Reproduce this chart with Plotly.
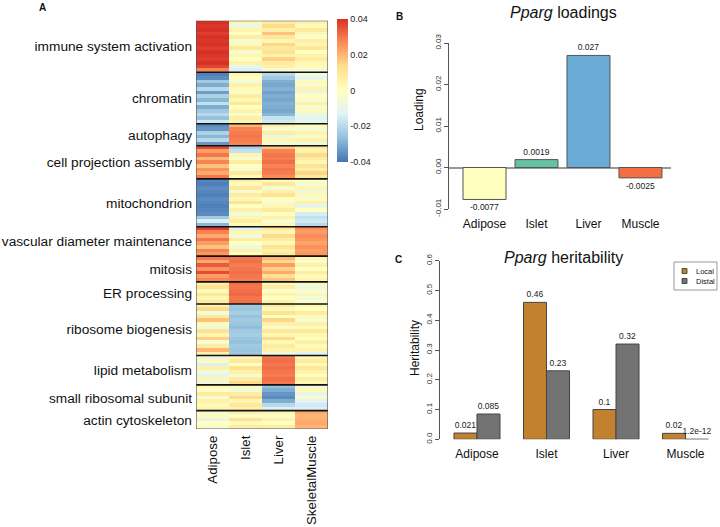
import numpy as np
import plotly.graph_objects as go

# ---- panel A : module loadings heatmap (values in units of 0.001) ----
heat_tissues = ["Adipose", "Islet", "Liver", "SkeletalMuscle"]
modules = ["immune system activation", "chromatin", "autophagy", "cell projection assembly",
           "mitochondrion", "vascular diameter maintenance", "mitosis", "ER processing",
           "ribosome biogenesis", "lipid metabolism", "small ribosomal subunit", "actin cytoskeleton"]
module_rows = [14, 14, 6, 9, 13, 8, 7, 6, 14, 8, 7, 5]

adipose_z = [40, 39, 40, 38, 40, 39, 40, 38, 40, 39, 38, 40, 37, 28,            # immune
             -38, -36, -24, -30, -20, -33, -22, -28, -18, -30, -24, -20, -26, -16,  # chromatin
             -36, -34, -22, -28, -20, -34,                                   # autophagy
             36, 24, 30, 20, 28, 18, 26, 22, 30,                             # cell projection
             -37, -38, -36, -37, -38, -36, -37, -38, -37, -36, -24, -14, -28,  # mitochondrion
             38, 28, 22, 30, 24, 18, 28, 25,                                 # vascular
             30, 22, 34, 26, 36, 24, 28,                                     # mitosis
             6, 12, 2, 10, 4, 8,                                             # ER
             6, 14, -6, 10, 18, 2, -8, 12, 4, 16, -4, 8, 20, 6,              # ribosome biogenesis
             -10, 2, -14, 6, -6, -12, 4, -8,                                 # lipid
             4, 0, 8, -4, 6, 2, 5,                                           # small ribosomal
             -6, 2, -10, 0, -4]                                              # actin
islet_z = [3, -8, 5, 0, 8, -5, 2, 10, -3, 4, 0, 6, -10, -14,
           4, 0, -6, 6, 2, -3, 8, 3, 10, 0, 5, -2, 7, 4,
           20, 28, 29, 30, 29, 28,
           -22, -18, 4, -4, 8, 0, -6, 10, 2,
           6, 2, 10, -4, 8, 3, 12, 0, 6, -6, 4, 8, 2,
           -14, 4, -6, 8, 0, -8, 6, 2,
           30, 31, 29, 30, 31, 30, 29,
           31, 30, 31, 32, 30, 31,
           -24, -25, -23, -26, -24, -25, -27, -24, -23, -25, -26, -24, -25, -24,
           4, 10, 0, 12, 6, -4, 8, 14,
           2, -6, 8, 14, 4, 10, 6,
           6, -2, 12, 2, 8]
liver_z = [8, 14, 6, 18, 10, 4, 15, 9, 12, 5, 16, 8, 6, -4,
           -20, -24, -30, -31, -29, -32, -30, -31, -29, -30, -31, -28, -18, -16,
           6, -4, 8, -8, 3, -5,
           18, 28, 30, 29, 31, 28, 30, 29, 27,
           2, 10, -3, 6, 12, 0, -5, 4, 9, 1, 6, -4, 3,
           10, 4, 14, 8, 2, 12, 6, 9,
           20, 14, 24, 16, 22, 12, 18,
           2, 8, -2, 5, 0, 6,
           8, 3, 12, 0, 15, 6, -3, 10, 4, 14, 2, 8, 5, -6,
           30, 31, 30, 31, 30, 29, 31, 30,
           -26, -30, -34, -36, -30, -20, -14,
           4, -2, 6, 0, 8]
muscle_z = [6, 2, 9, 3, -2, 7, 4, 10, 0, 5, 8, 3, 2, -6,
            -6, -10, 2, -4, 5, -8, 0, -3, 6, -5, 2, -9, -12, -10,
            2, -6, 5, -3, 6, -8,
            10, 5, 14, 8, 3, 12, 6, 15, 9,
            0, -5, 4, -8, 2, -3, 6, -10, 0, -15, -18, -16, -20,
            26, 24, 27, 25, 23, 26, 24, 25,
            4, -2, 6, 0, 8, 2, 5,
            2, -8, -4, 3, -6, -2,
            4, 0, 8, 2, -4, 6, 1, 10, 3, 0, 7, 2, 5, -12,
            4, 8, 2, 10, 5, 0, 7, 3,
            -6, 2, -10, -4, -12, -16, -14,
            22, 20, 21, 22, 20]
heat_ticks = [-0.04, -0.02, 0, 0.02, 0.04]

# ---- panel B : Pparg loadings ----
bar_tissues = ["Adipose", "Islet", "Liver", "Muscle"]
loadings = [-0.0077, 0.0019, 0.027, -0.0025]
loading_colors = ["#FFFFBF", "#66C2A5", "#6AABD6", "#F46D43"]

# ---- panel C : Pparg heritability ----
local_h2 = [0.021, 0.46, 0.1, 0.02]
distal_h2 = [0.085, 0.23, 0.32, 1.2e-12]

FONT = "Liberation Sans, Arial, Helvetica, sans-serif"
W, H = 720, 527


def px(x):
    return x / W


def py(y):
    return 1 - y / H


z = [[a / 1000, i / 1000, l / 1000, m / 1000]
     for a, i, l, m in zip(adipose_z, islet_z, liver_z, muscle_z)]
bounds = np.concatenate([[0], np.cumsum(module_rows)])
centers = [(bounds[k] + bounds[k + 1] - 1) / 2 for k in range(len(modules))]
n_rows = int(bounds[-1])

pheat = ["#4575B4", "#91BFDB", "#E0F3F8", "#FFFFBF", "#FEE090", "#FC8D59", "#D73027"]
colorscale = [[k / 6, c] for k, c in enumerate(pheat)]

fig = go.Figure()

fig.add_trace(go.Heatmap(
    z=z, x=list(range(4)), y=list(range(n_rows)), xaxis="x", yaxis="y",
    colorscale=colorscale, zmin=-0.04, zmax=0.04,
    colorbar=dict(x=px(337), xanchor="left", y=py(90.5), yanchor="middle",
                  len=143 / H, lenmode="fraction", thickness=11, outlinewidth=0,
                  tickvals=heat_ticks, ticktext=["-0.04", "-0.02", "0", "0.02", "0.04"],
                  ticks="", tickfont=dict(size=9, color="#222"), xpad=0, ypad=0),
))

fig.add_trace(go.Bar(
    x=list(range(4)), y=loadings, xaxis="x2", yaxis="y2", width=0.827,
    marker=dict(color=loading_colors, line=dict(color="#555", width=1)),
    text=[str(v) for v in loadings], textposition="outside", cliponaxis=False,
    constraintext="none", textfont=dict(size=8.5, color="#222"), showlegend=False,
))

fig.add_trace(go.Bar(
    x=list(range(4)), y=local_h2, xaxis="x3", yaxis="y3", name="Local",
    marker=dict(color="#C1812F", line=dict(color="#444", width=1)),
    text=[str(v) for v in local_h2], textposition="outside", cliponaxis=False,
    constraintext="none", textfont=dict(size=8.5, color="#222"), showlegend=False,
))
fig.add_trace(go.Bar(
    x=list(range(4)), y=distal_h2, xaxis="x3", yaxis="y3", name="Distal",
    marker=dict(color="#737373", line=dict(color="#444", width=1)),
    text=[str(v) for v in distal_h2], textposition="outside", cliponaxis=False,
    constraintext="none", textfont=dict(size=8.5, color="#222"), showlegend=False,
))

shapes = []
# block separators and outer border of the heatmap
for b in bounds[1:-1]:
    shapes.append(dict(type="line", xref="x", yref="y", x0=-0.5, x1=3.5, y0=b - 0.5, y1=b - 0.5,
                       line=dict(color="#111", width=1.6)))
shapes.append(dict(type="rect", xref="x", yref="y", x0=-0.5, x1=3.5, y0=-0.5, y1=n_rows - 0.5,
                   line=dict(color="#555", width=1.2)))
# legend of panel C
shapes.append(dict(type="rect", xref="paper", yref="paper", x0=px(674), x1=px(717),
                   y0=py(290), y1=py(262), line=dict(color="#999", width=1)))
for yc, col in [(271, "#C1812F"), (281, "#737373")]:
    shapes.append(dict(type="rect", xref="paper", yref="paper", x0=px(682), x1=px(687),
                       y0=py(yc + 2.5), y1=py(yc - 2.5), fillcolor=col,
                       line=dict(color="#333", width=0.8)))

annotations = []


def note(text, x, y, size, angle=0, xanchor="center", bold=False):
    annotations.append(dict(text=f"<b>{text}</b>" if bold else text, x=px(x), y=py(y),
                            xref="paper", yref="paper", showarrow=False, textangle=angle,
                            xanchor=xanchor, yanchor="middle",
                            font=dict(size=size, color="#111", family=FONT)))


note("A", 42, 7, 10, bold=True)
note("B", 399, 17, 10, bold=True)
note("C", 398, 259, 10, bold=True)
note("<i>Pparg</i> loadings", 563, 13, 16)
note("<i>Pparg</i> heritability", 563, 258, 16)
note("Loading", 419, 110, 12, angle=-90)
note("Heritability", 415, 348, 12, angle=-90)
note("Local", 694, 271, 7.5, xanchor="left")
note("Distal", 694, 281, 7.5, xanchor="left")

fig.update_layout(
    width=W, height=H, margin=dict(l=0, r=0, t=0, b=0),
    paper_bgcolor="white", plot_bgcolor="white",
    font=dict(family=FONT, color="#111"),
    barmode="group", bargap=0.338, bargroupgap=0,
    shapes=shapes, annotations=annotations, showlegend=False,
    xaxis=dict(domain=[px(196), px(328)], anchor="y", range=[-0.5, 3.5],
               tickvals=list(range(4)), ticktext=heat_tissues, tickangle=-90,
               ticks="", showline=False, showgrid=False, zeroline=False, automargin=False,
               tickfont=dict(size=13.3, color="#111"), ticklabelstandoff=3),
    yaxis=dict(domain=[py(429), py(20.7)], anchor="x", range=[n_rows - 0.5, -0.5],
               tickvals=centers, ticktext=modules, ticks="", showline=False, automargin=False,
               showgrid=False, zeroline=False, tickfont=dict(size=13.7, color="#111"),
               ticklabelstandoff=3),
    xaxis2=dict(domain=[px(449), px(671)], anchor="y2", range=[-0.683, 3.587],
                tickvals=list(range(4)), ticktext=bar_tissues, ticks="", showline=False,
                showgrid=False, zeroline=False, tickfont=dict(size=12, color="#111"),
                ticklabelstandoff=6, automargin=False),
    yaxis2=dict(domain=[py(209), py(43)], anchor="x2", range=[-0.01, 0.03],
                tickvals=[-0.01, 0, 0.01, 0.02, 0.03],
                ticktext=["-0.01", "0.00", "0.01", "0.02", "0.03"], tickangle=-90,
                showline=True, linecolor="#555", ticks="outside", ticklen=4, tickcolor="#555",
                showgrid=False, zeroline=True, zerolinecolor="#999", zerolinewidth=1.5,
                tickfont=dict(size=8, color="#333"), automargin=False),
    xaxis3=dict(domain=[px(440), 1.0], anchor="y3", range=[-0.532, 3.496],
                tickvals=list(range(4)), ticktext=bar_tissues, ticks="", showline=False,
                showgrid=False, zeroline=False, tickfont=dict(size=12, color="#111"),
                ticklabelstandoff=6, automargin=False),
    yaxis3=dict(domain=[py(439.3), py(260.7)], anchor="x3", range=[0, 0.6],
                tickvals=[0, 0.1, 0.2, 0.3, 0.4, 0.5, 0.6],
                ticktext=["0.0", "0.1", "0.2", "0.3", "0.4", "0.5", "0.6"], tickangle=-90,
                showline=True, linecolor="#555", ticks="outside", ticklen=4, tickcolor="#555",
                showgrid=False, zeroline=False, tickfont=dict(size=8, color="#333"),
                automargin=False),
)

# the page body has a default 8px margin; drop it so the figure sits at the corner
fig.write_html("out.html", config={"displayModeBar": False},
               post_script="document.body.style.margin = '0';")
